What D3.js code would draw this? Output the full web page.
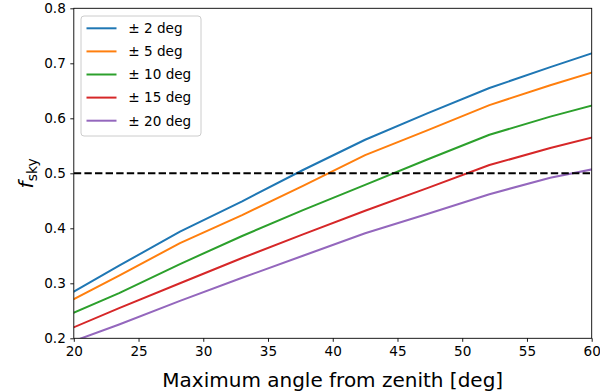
<!DOCTYPE html>
<html>
<head>
<meta charset="utf-8">
<script src="https://cdn.jsdelivr.net/npm/d3@7"></script>
<style>
  html, body { margin: 0; padding: 0; background: #fff; }
  svg { display: block; font-family: "DejaVu Sans", sans-serif; }
</style>
</head>
<body>
<svg id="chart" width="600" height="392"></svg>
<script>
// Maximum zenith angle samples (deg)
const zenith = [20, 23.5, 28.2, 33, 37.7, 42.5, 47.3, 52.1, 56.8, 60];

// Sky fraction for each pointing tolerance
const seriesNames = ["± 2 deg", "± 5 deg", "± 10 deg", "± 15 deg", "± 20 deg"];
const fsky2  = [0.285, 0.332, 0.394, 0.449, 0.506, 0.561, 0.609, 0.655, 0.693, 0.718];
const fsky5  = [0.271, 0.314, 0.373, 0.424, 0.477, 0.533, 0.578, 0.624, 0.660, 0.683];
const fsky10 = [0.2465, 0.282, 0.335, 0.386, 0.433, 0.479, 0.525, 0.570, 0.603, 0.623];
const fsky15 = [0.220, 0.255, 0.300, 0.346, 0.389, 0.432, 0.473, 0.515, 0.546, 0.565];
const fsky20 = [0.195, 0.225, 0.268, 0.310, 0.350, 0.391, 0.426, 0.462, 0.492, 0.507];
const seriesValues = [fsky2, fsky5, fsky10, fsky15, fsky20];
const seriesColors = ["#1f77b4", "#ff7f0e", "#2ca02c", "#d62728", "#9467bd"];

// Reference level
const halfSky = 0.5;

// Axis ticks
const xTicks = [20, 25, 30, 35, 40, 45, 50, 55, 60];
const yTicks = [0.2, 0.3, 0.4, 0.5, 0.6, 0.7, 0.8];

const svg = d3.select("#chart");
const plotLeft = 73.8, plotRight = 591.7, plotTop = 8.3, plotBottom = 338.3;

const x = d3.scaleLinear().domain([20, 60]).range([plotLeft, plotRight]);
const y = d3.scaleLinear().domain([0.2, 0.8]).range([plotBottom, plotTop]);

svg.append("defs").append("clipPath").attr("id", "plot-clip")
  .append("rect")
  .attr("x", plotLeft).attr("y", plotTop)
  .attr("width", plotRight - plotLeft).attr("height", plotBottom - plotTop);

const plot = svg.append("g").attr("clip-path", "url(#plot-clip)");

const line = d3.line()
  .x((d, i) => x(zenith[i]))
  .y(d => y(d));

seriesValues.forEach((vals, k) => {
  plot.append("path")
    .datum(vals)
    .attr("d", line)
    .attr("fill", "none")
    .attr("stroke", seriesColors[k])
    .attr("stroke-width", 2)
    .attr("stroke-linejoin", "round")
    .attr("stroke-linecap", "square");
});

// Dashed 50% line
plot.append("line")
  .attr("x1", x(20)).attr("x2", x(60))
  .attr("y1", y(halfSky)).attr("y2", y(halfSky))
  .attr("stroke", "#000")
  .attr("stroke-width", 2)
  .attr("stroke-dasharray", "7.4,3.2");

// Axes
const xAxis = d3.axisBottom(x).tickValues(xTicks).tickSize(3.5).tickPadding(4.5)
  .tickFormat(d3.format("d"));
const yAxis = d3.axisLeft(y).tickValues(yTicks).tickSize(3.5).tickPadding(4.5)
  .tickFormat(d3.format(".1f"));

const gx = svg.append("g").attr("transform", `translate(0,${plotBottom})`).call(xAxis);
const gy = svg.append("g").attr("transform", `translate(${plotLeft},0)`).call(yAxis);
[gx, gy].forEach(g => {
  g.select(".domain").remove();
  g.selectAll(".tick line").attr("stroke", "#000").attr("stroke-width", 0.9);
  g.selectAll(".tick text")
    .attr("fill", "#000")
    .style("font-family", "DejaVu Sans")
    .style("font-size", "13.6px");
});
gx.selectAll(".tick text").attr("dy", "0.72em");

// Frame
svg.append("rect")
  .attr("x", plotLeft).attr("y", plotTop)
  .attr("width", plotRight - plotLeft).attr("height", plotBottom - plotTop)
  .attr("fill", "none")
  .attr("stroke", "#000")
  .attr("stroke-width", 0.9);

// Axis labels
svg.append("text")
  .attr("x", (plotLeft + plotRight) / 2)
  .attr("y", 387)
  .attr("text-anchor", "middle")
  .style("font-size", "20px")
  .attr("fill", "#000")
  .text("Maximum angle from zenith [deg]");

const yl = svg.append("text")
  .attr("transform", `translate(33,${(plotTop + plotBottom) / 2}) rotate(-90)`)
  .attr("text-anchor", "middle")
  .style("font-size", "20px")
  .attr("fill", "#000");
yl.append("tspan").style("font-style", "italic").text("f");
yl.append("tspan").attr("dy", 4).style("font-size", "14px").text("sky");

// Legend
const lg = svg.append("g");
lg.append("rect")
  .attr("x", 81).attr("y", 16)
  .attr("width", 120).attr("height", 120)
  .attr("rx", 3)
  .attr("fill", "#fff").attr("fill-opacity", 0.8)
  .attr("stroke", "#cccccc").attr("stroke-width", 1);

seriesNames.forEach((name, k) => {
  const yy = 28.3 + k * 23.1;
  lg.append("line")
    .attr("x1", 86.5).attr("x2", 116.5)
    .attr("y1", yy).attr("y2", yy)
    .attr("stroke", seriesColors[k]).attr("stroke-width", 2);
  lg.append("text")
    .attr("x", 128.3).attr("y", yy)
    .attr("dy", "0.36em")
    .style("font-size", "13.6px")
    .attr("fill", "#000")
    .text(name);
});
</script>
</body>
</html>
